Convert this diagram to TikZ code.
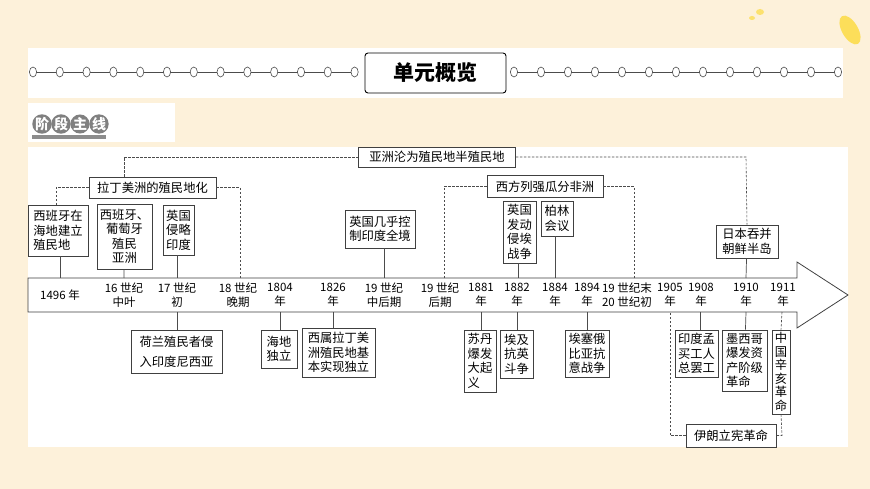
\documentclass[tikz,border=0pt]{standalone}
\usepackage{fontspec}
\newfontfamily\cjk{Noto Sans CJK SC}
\usetikzlibrary{shapes.geometric}
\definecolor{bgc}{RGB}{253,241,218}
\begin{document}
\begin{tikzpicture}[x=1pt,y=-1pt,
  bx/.style={draw=black!75,fill=white,line width=0.7pt,inner sep=0pt,align=center,font=\cjk\fontsize{12.3}{14.5}\selectfont},
  lk/.style={draw=black!70,line width=0.7pt},
  dl/.style={draw=black!70,line width=0.6pt,dash pattern=on 2.5pt off 1.5pt},
  yr/.style={inner sep=0pt,align=center,font=\cjk\fontsize{11.5}{13.5}\selectfont}]
\fill[bgc] (0,0) rectangle (870,489);
\useasboundingbox (0,0) rectangle (870,489);
% decor
\fill[yellow!70!orange,opacity=0.6,rotate around={30:(850,30)}] (850,30) ellipse (8 and 16);
\fill[yellow!70!orange,opacity=0.5] (760,12) ellipse (4 and 3);
\fill[yellow!70!orange,opacity=0.5] (752,18) ellipse (3 and 2);
% header band
\fill[white] (28,48) rectangle (843,98);
\draw[black!70,line width=0.8pt] (33,72) -- (355,72) (514,72) -- (838,72);
\foreach \i in {0,...,12}{\draw[black!70,fill=white,line width=0.6pt] (33+26.8*\i,72) ellipse (3.6 and 5);
  \draw[black!70,fill=white,line width=0.6pt] (514+27*\i,72) ellipse (3.6 and 5);}
\node[draw=black,line width=0.9pt,rounded corners=3pt,fill=white,minimum width=141,minimum height=40,inner sep=0pt,font=\cjk\bfseries\fontsize{21}{22}\selectfont] (title) at (435.5,73) {单元概览};
% stage label
\fill[white] (28,103) rectangle (175,142);
\fill[black!45] (32,135) rectangle (106,139);
\foreach \c [count=\i] in {阶,段,主,线}{\node[circle,fill=black!50,minimum size=19,inner sep=0pt,text=white,font=\cjk\bfseries\fontsize{14}{14}\selectfont] (s\i) at (23+19*\i,124) {\c};}
% panel
\fill[white] (28,147) rectangle (848,447);
% axis arrow
\draw[black!75,fill=white,line width=0.8pt] (28,278) -- (797,278) -- (797,262) -- (848,295) -- (797,328) -- (797,312) -- (28,312) -- cycle;
\node[yr] (y1) at (60,295) {1496 年};
\node[yr] (y2) at (124,295) {16 世纪\\中叶};
\node[yr] (y3) at (177,295) {17 世纪\\初};
\node[yr] (y4) at (238,295) {18 世纪\\晚期};
\node[yr] (y5) at (280,295) {1804\\年};
\node[yr] (y6) at (333,295) {1826\\年};
\node[yr] (y7) at (384,295) {19 世纪\\中后期};
\node[yr] (y8) at (440,295) {19 世纪\\后期};
\node[yr] (y9) at (481,295) {1881\\年};
\node[yr] (y10) at (517,295) {1882\\年};
\node[yr] (y11) at (555,295) {1884\\年};
\node[yr] (y12) at (587,295) {1894\\年};
\node[yr] (y13) at (627,295) {19 世纪末\\20 世纪初};
\node[yr] (y14) at (670,295) {1905\\年};
\node[yr] (y15) at (701,295) {1908\\年};
\node[yr] (y16) at (746,295) {1910\\年};
\node[yr] (y17) at (783,295) {1911\\年};
\coordinate (ax1) at (60,278); \coordinate (ax2) at (124,278); \coordinate (ax3) at (177,278);
\coordinate (ax4) at (240,278); \coordinate (ax7) at (384,278); \coordinate (ax8) at (444,278);
\coordinate (ax10) at (518,278); \coordinate (ax11) at (555,278); \coordinate (ax13) at (634,278);
\coordinate (ax16) at (746,278);
\coordinate (bx3) at (177,312); \coordinate (bx5) at (280,312); \coordinate (bx6) at (333,312);
\coordinate (bx9) at (481,312); \coordinate (bx10) at (517,312); \coordinate (bx12) at (587,312);
\coordinate (bx14) at (670,312); \coordinate (bx15) at (700,312); \coordinate (bx16) at (746,312); \coordinate (bx17) at (782,312);
% upper boxes
\node[bx,minimum width=157,minimum height=20] (asia) at (437,157) {亚洲沦为殖民地半殖民地};
\node[bx,minimum width=127,minimum height=21] (lat) at (152.5,187.5) {拉丁美洲的殖民地化};
\node[bx,minimum width=116,minimum height=22] (afr) at (545,186.5) {西方列强瓜分非洲};
\node[bx,minimum width=60,minimum height=51,align=left] (a1) at (58,230.5) {西班牙在\\海地建立\\殖民地};
\node[bx,minimum width=55,minimum height=65] (a2) at (124.5,236.5) {西班牙、\\葡萄牙\\殖民\\亚洲};
\node[bx,minimum width=31,minimum height=50] (a3) at (178.5,230) {英国\\侵略\\印度};
\node[bx,minimum width=70,minimum height=38] (a7) at (380,229) {英国几乎控\\制印度全境};
\node[bx,minimum width=33,minimum height=62] (a10) at (519.5,232) {英国\\发动\\侵埃\\战争};
\node[bx,minimum width=32,minimum height=35] (a11) at (557,218.5) {柏林\\会议};
\node[bx,minimum width=62,minimum height=33] (a16) at (747,241.5) {日本吞并\\朝鲜半岛};
% lower boxes
\node[bx,minimum width=91,minimum height=43,font=\cjk\fontsize{12.3}{20}\selectfont] (b3) at (176.5,351.5) {荷兰殖民者侵\\入印度尼西亚};
\node[bx,minimum width=36,minimum height=38] (b5) at (279,349) {海地\\独立};
\node[bx,minimum width=73,minimum height=49] (b6) at (338.5,352.5) {西属拉丁美\\洲殖民地基\\本实现独立};
\node[bx,minimum width=32,minimum height=62,align=left] (b9) at (480,361) {苏丹\\爆发\\大起\\义};
\node[bx,minimum width=33,minimum height=48] (b10) at (516.5,354) {埃及\\抗英\\斗争};
\node[bx,minimum width=44,minimum height=47] (b12) at (587,353.5) {埃塞俄\\比亚抗\\意战争};
\node[bx,minimum width=43,minimum height=47] (b15) at (696.5,353.5) {印度孟\\买工人\\总罢工};
\node[bx,minimum width=45,minimum height=61,align=left] (b16) at (744.5,360.5) {墨西哥\\爆发资\\产阶级\\革命};
\node[bx,minimum width=18,minimum height=84,font=\cjk\fontsize{12.3}{13.5}\selectfont] (b17) at (781,372) {中\\国\\辛\\亥\\革\\命};
\node[bx,minimum width=90,minimum height=23] (iran) at (731,435.5) {伊朗立宪革命};
% solid links
\draw[lk] (a1.south -| ax1) -- (ax1);
\draw[lk] (a2) -- (ax2);
\draw[lk] (a3.south -| ax3) -- (ax3);
\draw[lk] (a7.south -| ax7) -- (ax7);
\draw[lk] (a10.south -| ax10) -- (ax10);
\draw[lk] (a11.south -| ax11) -- (ax11);
\draw[lk] (a16) -- (ax16);
\draw[lk] (bx3) -- (bx3 |- b3.north);
\draw[lk] (bx5) -- (bx5 |- b5.north);
\draw[lk] (bx6) -- (bx6 |- b6.north);
\draw[lk] (bx9) -- (bx9 |- b9.north);
\draw[lk] (bx10) -- (bx10 |- b10.north);
\draw[lk] (bx12) -- (b12);
\draw[lk] (bx15) -- (bx15 |- b15.north);
\draw[lk] (bx16) -- (b16);
% dashed links
\draw[dl] (lat.north -| 124,0) -- (124,157) -- (asia.west);
\draw[dl] (asia.east) -- (746,157) -- (a16.north);
\draw[dl] (lat.west) -- (56,187.5) -- (a1.north -| 56,0);
\draw[dl] (lat.east) -- (240,187.5) -- (ax4);
\draw[dl] (afr.west) -- (444,186.5) -- (ax8);
\draw[dl] (afr.east) -- (634,186.5) -- (ax13);
\draw[dl] (bx17) -- (b17.north);
\draw[dl] (b17.south) -- (782,435.5) -- (iran.east);
\draw[dl] (iran.west) -- (670,435.5) -- (bx14);
\end{tikzpicture}
\end{document}
